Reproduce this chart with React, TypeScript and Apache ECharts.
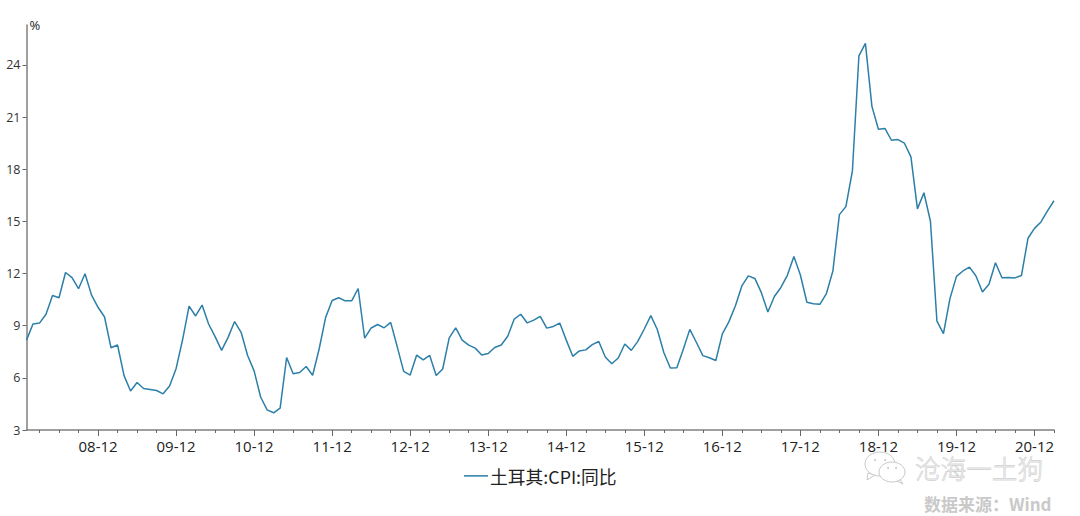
import React, { useEffect, useRef } from "react";
import * as echarts from "echarts";

const years = ["08","09","10","11","12","13","14","15","16","17","18","19","20","21"];
const values2008 = [8.17,9.10,9.15,9.66,10.74,10.61,12.06,11.77,11.13,11.99,10.76,10.06];
const values2009 = [9.50,7.73,7.89,6.13,5.24,5.73,5.39,5.33,5.27,5.08,5.53,6.53];
const values2010 = [8.19,10.13,9.56,10.19,9.10,8.37,7.58,8.33,9.24,8.62,7.29,6.40];
const values2011 = [4.90,4.16,3.99,4.26,7.17,6.24,6.31,6.65,6.15,7.66,9.48,10.45];
const values2012 = [10.61,10.43,10.43,11.14,8.28,8.87,9.07,8.88,9.19,7.80,6.37,6.16];
const values2013 = [7.31,7.03,7.29,6.13,6.51,8.30,8.88,8.17,7.88,7.71,7.32,7.40];
const values2014 = [7.75,7.89,8.39,9.38,9.66,9.16,9.32,9.54,8.86,8.96,9.15,8.17];
const values2015 = [7.24,7.55,7.61,7.91,8.09,7.20,6.81,7.14,7.95,7.58,8.10,8.81];
const values2016 = [9.58,8.78,7.46,6.57,6.58,7.64,8.79,8.05,7.28,7.16,7.00,8.53];
const values2017 = [9.22,10.13,11.29,11.87,11.72,10.90,9.79,10.68,11.20,11.90,12.98,11.92];
const values2018 = [10.35,10.26,10.23,10.85,12.15,15.39,15.85,17.90,24.52,25.24,21.62,20.30];
const values2019 = [20.35,19.67,19.71,19.50,18.71,15.72,16.65,15.01,9.26,8.55,10.56,11.84];
const values2020 = [12.15,12.37,11.86,10.94,11.39,12.62,11.76,11.77,11.75,11.89,14.03,14.60];
const values2021 = [14.97,15.61,16.19];
const values = [
  ...values2008, ...values2009, ...values2010, ...values2011, ...values2012, ...values2013, ...values2014,
  ...values2015, ...values2016, ...values2017, ...values2018, ...values2019, ...values2020, ...values2021,
];
const categories = values.map((_, i) => {
  const m = (i % 12) + 1;
  return `${years[Math.floor(i / 12)]}-${m < 10 ? "0" + m : m}`;
});
const yTicks = [3, 6, 9, 12, 15, 18, 21, 24];
const seriesName = "土耳其:CPI:同比";

const axisColor = "#808080";
const font = "'Open Sans', sans-serif";
const cjk = "'Noto Sans CJK SC', sans-serif";
const wmStroke = "#c9c9c9";

export default function App() {
  const ref = useRef<HTMLDivElement>(null);
  useEffect(() => {
    const chart = echarts.init(ref.current!, null, { renderer: "svg" });
    chart.setOption({
      animation: false,
      backgroundColor: "#ffffff",
      grid: { left: 26.5, right: 26, top: 25, bottom: 86, containLabel: false },
      legend: {
        data: [seriesName],
        left: 459,
        top: 462,
        icon: "path://M0 0H24V1.5H0Z",
        itemWidth: 24,
        itemHeight: 2,
        itemGap: 2,
        textStyle: { fontFamily: cjk, fontSize: 17.8, color: "#222222", padding: [0, 0, 0, -3] },
      },
      xAxis: [
        {
          type: "category",
          boundaryGap: false,
          data: categories,
          axisLine: { show: true, lineStyle: { color: axisColor, width: 1.5 } },
          axisTick: { show: true, length: 6, interval: (i: number) => i % 12 === 11, lineStyle: { color: "#666666" } },
          axisLabel: {
            interval: (i: number) => i % 12 === 11,
            fontFamily: font,
            fontSize: 15,
            color: "#222222",
            margin: 8,
          },
        },
        {
          type: "category",
          boundaryGap: false,
          position: "bottom",
          data: categories,
          axisLine: { show: false },
          axisTick: { show: true, length: 3, interval: (i: number) => i % 3 === 2, lineStyle: { color: "#666666" } },
          axisLabel: { show: false },
        },
      ],
      yAxis: {
        type: "value",
        min: 3,
        max: 26.3,
        interval: 3,
        splitLine: { show: false },
        name: "%",
        nameLocation: "end",
        nameGap: -6,
        nameTextStyle: { fontFamily: font, fontSize: 13, color: "#222222", align: "left", padding: [0, 0, 0, 3] },
        axisLine: { show: true, lineStyle: { color: axisColor, width: 1.5 } },
        axisTick: { show: true, length: 4, customValues: yTicks, lineStyle: { color: "#666666" } },
        axisLabel: { customValues: yTicks, fontFamily: font, fontSize: 12.5, color: "#333333", margin: 6 },
      },
      series: [
        {
          name: seriesName,
          type: "line",
          data: values,
          showSymbol: false,
          symbol: "none",
          lineStyle: { color: "#2c7fa8", width: 1.5 },
          itemStyle: { color: "#2c7fa8" },
          silent: true,
        },
      ],
      graphic: [
        { type: "polygon", shape: { points: [[868, 473], [867, 480], [875, 475]] }, style: { fill: "#ffffff", stroke: wmStroke, lineWidth: 1 } },
        { type: "ellipse", shape: { cx: 880, cy: 464, rx: 15, ry: 12 }, style: { fill: "#ffffff", stroke: wmStroke, lineWidth: 1 } },
        { type: "circle", shape: { cx: 875, cy: 460, r: 1 }, style: { fill: wmStroke } },
        { type: "circle", shape: { cx: 885, cy: 460, r: 1 }, style: { fill: wmStroke } },
        { type: "polygon", shape: { points: [[899, 478], [903, 484], [895, 480]] }, style: { fill: "#ffffff", stroke: wmStroke, lineWidth: 1 } },
        { type: "ellipse", shape: { cx: 892, cy: 472, rx: 13, ry: 10 }, style: { fill: "#ffffff", stroke: wmStroke, lineWidth: 1 } },
        { type: "circle", shape: { cx: 888, cy: 468, r: 1 }, style: { fill: wmStroke } },
        { type: "circle", shape: { cx: 896, cy: 468, r: 1 }, style: { fill: wmStroke } },
        {
          type: "text",
          x: 915,
          y: 455,
          style: { text: "沧海一土狗", font: "300 25.6px 'Noto Sans CJK SC'", fill: "#e6e6e6", stroke: "#b0b0b0", lineWidth: 0.5 },
        },
        {
          type: "text",
          x: 924,
          y: 495,
          style: { text: "数据来源：Wind", font: "bold 17px 'Noto Sans CJK SC'", fill: "#c9c9c9" },
        },
      ],
    });
    return () => chart.dispose();
  }, []);
  return <div ref={ref} style={{ position: "fixed", left: 0, top: 0, width: 1080, height: 516 }} />;
}
